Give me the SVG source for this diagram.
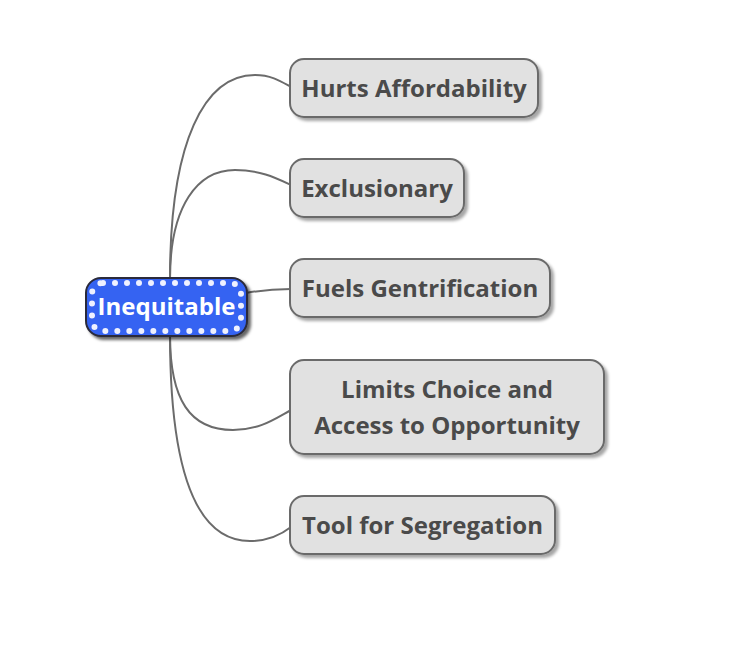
<svg xmlns="http://www.w3.org/2000/svg" width="736" height="658" viewBox="0 0 736 658">
<defs>
<filter id="sh" x="-10%" y="-10%" width="130%" height="140%">
<feDropShadow dx="3" dy="3" stdDeviation="1.5" flood-color="#000" flood-opacity="0.35"/>
</filter>
<filter id="shc" x="-10%" y="-10%" width="130%" height="140%">
<feDropShadow dx="3" dy="3" stdDeviation="1.5" flood-color="#000" flood-opacity="0.6"/>
</filter>
<style>
.node rect.box{fill:#e1e1e1;stroke:#6b6b6b;stroke-width:2;filter:url(#sh)}
.node text{font-family:"Open Sans","Noto Sans",sans-serif;font-weight:bold;font-size:24px;fill:#4a4a4a;text-anchor:middle}
.conn path{fill:none;stroke:#6b6b6b;stroke-width:2}
</style>
</defs>
<rect width="736" height="658" fill="#fff"/>
<g class="conn">
<path d="M170,279 C170,140 205,75 255,75 C272,75 282,82 291,87"/>
<path d="M170,279 C170,205 198,170 235,170 C260,170 276,178 291,185"/>
<path d="M246,293 C262,290 276,289 291,289"/>
<path d="M170,335 C170,400 190,430 233,430 C260,430 276,418 291,410"/>
<path d="M170,335 C170,480 200,541 250,541 C270,541 282,534 291,527"/>
</g>
<g id="center">
<rect x="86" y="278" width="161" height="58" rx="15" fill="#3563f2" stroke="#2a2a3a" stroke-width="2" filter="url(#shc)"/>
<rect x="92" y="283" width="149" height="48" rx="11" fill="none" stroke="#eef1ff" stroke-width="6" stroke-linecap="round" stroke-dasharray="0 12"/>
<text x="166.5" y="315" font-family="Open Sans, Noto Sans, sans-serif" font-weight="bold" font-size="24" fill="#fff" text-anchor="middle">Inequitable</text>
</g>
<g id="n1" class="node">
<rect class="box" x="290" y="59" width="248" height="58" rx="14"/>
<text x="414" y="97">Hurts Affordability</text>
</g>
<g id="n2" class="node">
<rect class="box" x="290" y="159" width="174" height="58" rx="14"/>
<text x="377" y="197">Exclusionary</text>
</g>
<g id="n3" class="node">
<rect class="box" x="290" y="259" width="260" height="58" rx="14"/>
<text x="420" y="297">Fuels Gentrification</text>
</g>
<g id="n4" class="node">
<rect class="box" x="290" y="360" width="314" height="94" rx="14"/>
<text x="447" y="398">Limits Choice and</text>
<text x="447" y="434">Access to Opportunity</text>
</g>
<g id="n5" class="node">
<rect class="box" x="290" y="496" width="265" height="58" rx="14"/>
<text x="422.5" y="534">Tool for Segregation</text>
</g>
</svg>
